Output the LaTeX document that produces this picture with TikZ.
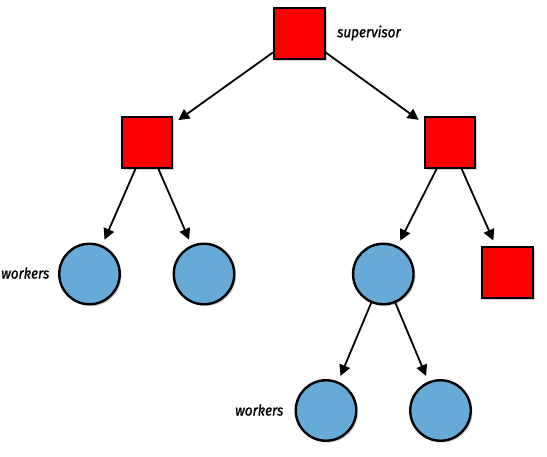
\documentclass[tikz,border=0pt]{standalone}
\usepackage{fontspec}
\newfontfamily\labfont[FakeStretch=0.9,FakeBold=1.2]{Fira Sans}
\usetikzlibrary{arrows.meta,shadows}
\definecolor{sqred}{HTML}{FF0000}
\definecolor{cirblue}{HTML}{66AAD7}
\tikzset{
  sqnode/.style={draw=black, line width=2.4pt, fill=sqred, minimum size=50.5pt, inner sep=0pt,
    drop shadow={opacity=0.35, shadow xshift=1.8pt, shadow yshift=-1.8pt}},
  cirnode/.style={draw=black, line width=2.4pt, fill=cirblue, circle, minimum size=60.5pt, inner sep=0pt,
    drop shadow={opacity=0.35, shadow xshift=1.8pt, shadow yshift=-1.8pt}},
  conn/.style={line width=1.8pt, -{Triangle[length=11pt,width=11pt]}, shorten >=6pt},
  lab/.style={font=\labfont\itshape\fontsize{15}{17}\selectfont, inner sep=0pt}
}
\begin{document}
\begin{tikzpicture}[x=1pt,y=-1pt]
\useasboundingbox (0,0) rectangle (547,456);
\node[sqnode] (top) at (299.5,33.5) {};
\node[sqnode] (m1) at (147,142.5) {};
\node[sqnode] (m2) at (450,142.5) {};
\node[cirnode] (c1) at (89.5,274) {};
\node[cirnode] (c2) at (204,274) {};
\node[cirnode] (c3) at (383.3,274) {};
\node[sqnode] (s4) at (507.5,272.5) {};
\node[cirnode] (b1) at (326,410.5) {};
\node[cirnode] (b2) at (440.5,410.5) {};
\node[lab, anchor=west] (lsup) at (337,33) {supervisor};
\node[lab, anchor=west] (lw1) at (1,273) {workers};
\node[lab, anchor=west] (lw2) at (235,410) {workers};
\draw[conn] (top) -- (m1);
\draw[conn] (top) -- (m2);
\draw[conn] (m1) -- (c1);
\draw[conn] (m1) -- (c2);
\draw[conn] (m2) -- (c3);
\draw[conn] (m2) -- (s4);
\draw[conn] (c3) -- (b1);
\draw[conn] (c3) -- (b2);
\end{tikzpicture}
\end{document}
